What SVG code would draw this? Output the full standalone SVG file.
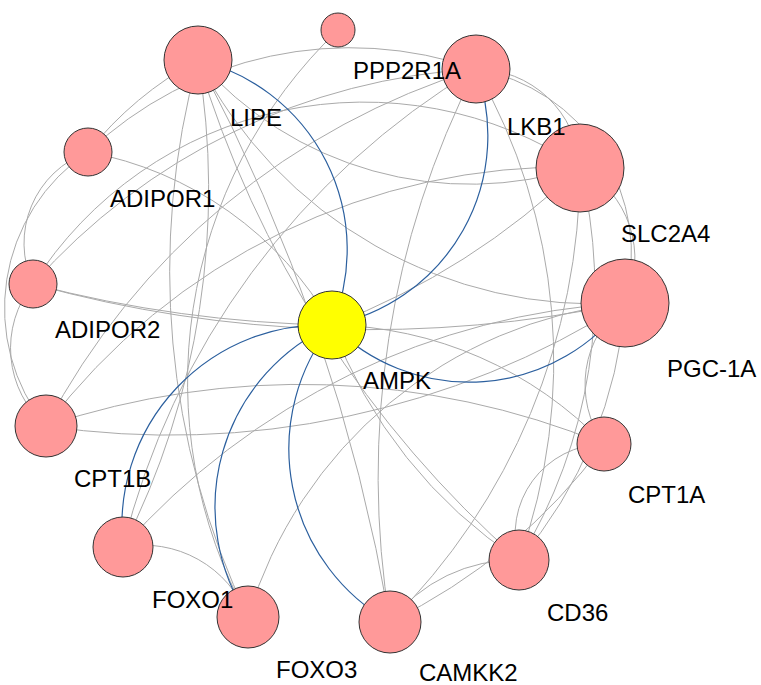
<svg xmlns="http://www.w3.org/2000/svg" width="761" height="685" viewBox="0 0 761 685">
<style>
.g{fill:none;stroke:#aaaaaa;stroke-width:1}
.b{fill:none;stroke:#2b5f9e;stroke-width:1.2}
.n circle{fill:#ff9999;stroke:#333333;stroke-width:1}
.hub circle{fill:#ffff00;stroke:#333333;stroke-width:1}
text{font-family:"Liberation Sans",Arial,sans-serif;font-size:24px;fill:#000}
</style>
<rect width="761" height="685" fill="#ffffff"/>
<g id="connectors">
<path class="g" d="M338 30 A487 487 0 0 0 248 617"/>
<path class="g" d="M198 60 A802 802 0 0 0 248 617"/>
<path class="g" d="M198 60 A790 790 0 0 1 123 547"/>
<path class="g" d="M198 60 A1082 1082 0 0 0 519 560"/>
<path class="g" d="M198 60 A446 446 0 0 0 625 303"/>
<path class="g" d="M88 152 A382 382 0 0 1 476 69"/>
<path class="g" d="M88 152 A362 362 0 0 1 198 60"/>
<path class="g" d="M88 152 A97 97 0 0 0 33 284"/>
<path class="g" d="M88 152 A188 188 0 0 0 46 426"/>
<path class="g" d="M33 284 A103 103 0 0 0 46 426"/>
<path class="g" d="M33 284 A392 392 0 0 1 580 167"/>
<path class="g" d="M33 284 A640 640 0 0 1 476 69"/>
<path class="g" d="M88 152 A356 356 0 0 1 332 325"/>
<path class="g" d="M46 426 A727 727 0 0 1 476 69"/>
<path class="g" d="M46 426 A849 849 0 0 0 625 303"/>
<path class="g" d="M46 426 A801 801 0 0 1 604 444"/>
<path class="g" d="M46 426 A654 654 0 0 1 580 167"/>
<path class="g" d="M123 547 A112 112 0 0 1 248 617"/>
<path class="g" d="M123 547 A772 772 0 0 1 476 69"/>
<path class="g" d="M248 617 A445 445 0 0 1 625 303"/>
<path class="g" d="M390 622 A897 897 0 0 1 476 69"/>
<path class="g" d="M390 622 A1868 1868 0 0 0 198 60"/>
<path class="g" d="M390 622 A158 158 0 0 1 519 560"/>
<path class="g" d="M390 622 A588 588 0 0 0 604 444"/>
<path class="g" d="M390 622 A641 641 0 0 0 580 167"/>
<path class="g" d="M476 69 A587 587 0 0 1 519 560"/>
<path class="g" d="M519 560 A90 90 0 0 1 604 444"/>
<path class="g" d="M519 560 A517 517 0 0 0 580 167"/>
<path class="g" d="M519 560 A445 445 0 0 0 625 303"/>
<path class="g" d="M604 444 A103 103 0 0 1 625 303"/>
<path class="g" d="M476 69 A104 104 0 0 1 580 167"/>
<path class="g" d="M476 69 A188 188 0 0 1 625 303"/>
<path class="g" d="M580 167 A104 104 0 0 1 625 303"/>
<path class="g" d="M332 325 A742 742 0 0 0 580 167"/>
<path class="g" d="M33 284 A1262 1262 0 0 0 332 325"/>
<path class="g" d="M332 325 A481 481 0 0 0 519 560"/>
<path class="g" d="M332 325 A386 386 0 0 1 604 444"/>
<path class="g" d="M198 60 A360 360 0 0 0 580 167"/>
<path class="g" d="M33 284 A1252 1252 0 0 0 625 303"/>
<path class="g" d="M123 547 A726 726 0 0 1 625 303"/>
<path class="b" d="M332 325 A195 195 0 0 0 198 60"/>
<path class="b" d="M332 325 A193 193 0 0 0 476 69"/>
<path class="b" d="M332 325 A193 193 0 0 0 625 303"/>
<path class="b" d="M332 325 A201 201 0 0 0 123 547"/>
<path class="b" d="M332 325 A200 200 0 0 0 248 617"/>
<path class="b" d="M332 325 A199 199 0 0 0 390 622"/>
</g>
<g id="LIPE" class="n"><circle cx="198" cy="60" r="34"/><text x="230" y="126">LIPE</text></g>
<g id="SLC2A4" class="n"><circle cx="580" cy="168" r="44"/><text x="621" y="242">SLC2A4</text></g>
<g id="LKB1" class="n"><circle cx="476" cy="69" r="34"/><text x="507" y="135">LKB1</text></g>
<g id="PPP2R1A" class="n"><circle cx="338" cy="30" r="17"/><text x="353" y="79">PPP2R1A</text></g>
<g id="PGC-1A" class="n"><circle cx="625" cy="303" r="44"/><text x="667" y="377">PGC-1A</text></g>
<g id="CPT1A" class="n"><circle cx="604" cy="444" r="27"/><text x="628" y="503">CPT1A</text></g>
<g id="CD36" class="n"><circle cx="519" cy="560" r="30"/><text x="547" y="621">CD36</text></g>
<g id="CAMKK2" class="n"><circle cx="390" cy="622" r="31"/><text x="419" y="681">CAMKK2</text></g>
<g id="FOXO3" class="n"><circle cx="248" cy="617" r="31"/><text x="276" y="678">FOXO3</text></g>
<g id="FOXO1" class="n"><circle cx="123" cy="547" r="30"/><text x="152" y="608">FOXO1</text></g>
<g id="CPT1B" class="n"><circle cx="46" cy="426" r="31"/><text x="74" y="487">CPT1B</text></g>
<g id="ADIPOR2" class="n"><circle cx="33" cy="284" r="24"/><text x="55" y="338">ADIPOR2</text></g>
<g id="ADIPOR1" class="n"><circle cx="88" cy="152" r="24"/><text x="110" y="207">ADIPOR1</text></g>
<g id="AMPK" class="hub"><circle cx="332" cy="325" r="34"/><text x="363" y="389">AMPK</text></g>
</svg>
